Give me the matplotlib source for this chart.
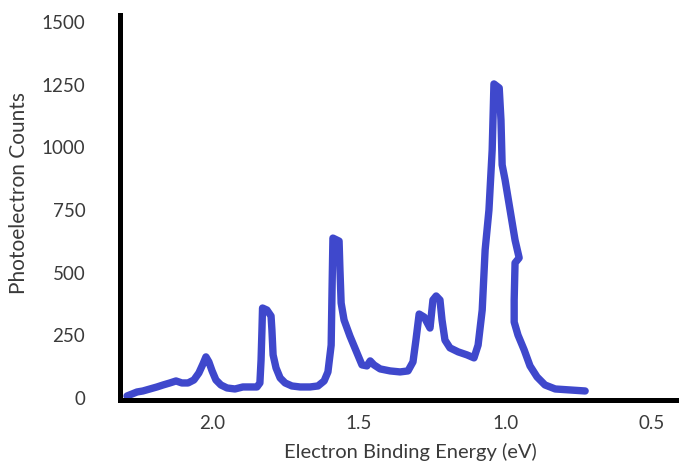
import matplotlib
matplotlib.use("Agg")
import matplotlib.pyplot as plt

# =====================================================
# Spectrum (binding energy in eV, counts)
# =====================================================
energy_ev = [
    2.290, 2.273, 2.256, 2.236, 2.212, 2.188, 2.167, 2.144, 2.123, 2.103,
    2.082, 2.062, 2.045, 2.031, 2.021, 2.011, 2.000, 1.987, 1.970, 1.949,
    1.922, 1.895, 1.871, 1.847, 1.837, 1.833, 1.830, 1.828, 1.813, 1.799,
    1.796, 1.792, 1.782, 1.768, 1.751, 1.728, 1.700, 1.666, 1.639, 1.618,
    1.605, 1.594, 1.591, 1.588, 1.567, 1.564, 1.560, 1.550, 1.530, 1.509,
    1.489, 1.472, 1.461, 1.448, 1.427, 1.393, 1.359, 1.332, 1.315, 1.305,
    1.294, 1.277, 1.257, 1.247, 1.236, 1.223, 1.216, 1.206, 1.189, 1.161,
    1.131, 1.107, 1.093, 1.079, 1.069, 1.056, 1.045, 1.039, 1.021, 1.015,
    1.011, 1.001, 0.984, 0.967, 0.953, 0.967, 0.970, 0.970, 0.957, 0.936,
    0.916, 0.892, 0.865, 0.830, 0.779, 0.728,
]
counts = [
    8, 16, 24, 28, 36, 44, 52, 60, 68, 60,
    60, 72, 100, 136, 164, 144, 108, 72, 52, 40,
    36, 44, 44, 44, 60, 152, 271, 359, 351, 327,
    271, 172, 120, 80, 60, 48, 44, 44, 48, 68,
    104, 211, 431, 638, 626, 511, 379, 311, 247, 188,
    132, 128, 148, 132, 116, 108, 104, 108, 144, 231,
    335, 323, 279, 391, 407, 391, 311, 231, 200, 184,
    172, 160, 211, 351, 591, 750, 990, 1253, 1237, 1109,
    930, 870, 750, 630, 559, 539, 391, 303, 251, 192,
    128, 84, 52, 36, 32, 28,
]

x_ticks = [2.0, 1.5, 1.0, 0.5]
x_tick_labels = ["2.0", "1.5", "1.0", "0.5"]
y_ticks = [0, 250, 500, 750, 1000, 1250, 1500]
y_tick_labels = ["0", "250", "500", "750", "1000", "1250", "1500"]

# =====================================================
# Plot
# =====================================================
plt.rcParams["font.family"] = ["Lato", "DejaVu Sans"]
text_color = "#3a3a3a"

fig = plt.figure(figsize=(6.79, 4.67), dpi=100)
ax = fig.add_axes([120 / 679, 67 / 467, 559 / 679, 385 / 467])

ax.plot(energy_ev, counts, color="#3f48cc", linewidth=5.3,
        solid_joinstyle="round", solid_capstyle="round")

ax.set_xlim(2.314, 0.408)
ax.set_ylim(-8, 1528)

ax.set_xticks(x_ticks)
ax.set_xticklabels(x_tick_labels)
ax.set_yticks(y_ticks)
ax.set_yticklabels(y_tick_labels)
ax.tick_params(axis="both", length=0, labelsize=13.5, labelcolor=text_color)
ax.tick_params(axis="y", pad=25)
ax.tick_params(axis="x", pad=11)

for side in ["top", "right"]:
    ax.spines[side].set_visible(False)
for side in ["left", "bottom"]:
    ax.spines[side].set_linewidth(3.6)
    ax.spines[side].set_color("black")

ax.set_xlabel("Electron Binding Energy (eV)", fontsize=14.5, color=text_color)
ax.set_ylabel("Photoelectron Counts", fontsize=15, color=text_color)
ax.xaxis.set_label_coords(0.519, -0.112)
ax.yaxis.set_label_coords(-0.163, 0.538)

fig.savefig("out.png", dpi=100)
